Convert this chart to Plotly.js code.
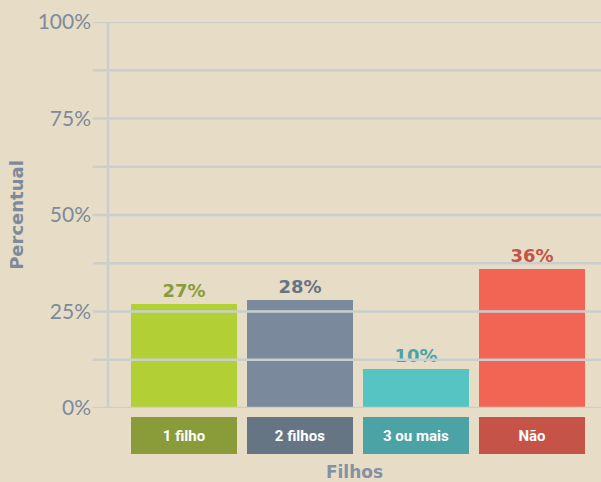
<!DOCTYPE html>
<html>
<head>
<meta charset="utf-8">
<script src="https://cdn.plot.ly/plotly-3.0.1.min.js"></script>
<style>html,body{margin:0;padding:0;background:#e7ddc6;}#chart{width:601px;height:482px;}</style>
</head>
<body>
<div id="chart"></div>
<script>
const categories = ['1 filho', '2 filhos', '3 ou mais', 'Não'];
const values = [27, 28, 10, 36];
const barColors = ['#b2cf36', '#7a899c', '#55c4c3', '#f26555'];
const darkColors = ['#8a9c3a', '#667584', '#4ba3a5', '#c55347'];
const yTicks = [0, 25, 50, 75, 100];
const gridLevels = [0, 12.5, 25, 37.5, 50, 62.5, 75, 87.5, 100];

const trace = {
  type: 'bar',
  x: categories.map((c, i) => i),
  y: values,
  width: 0.914,
  marker: {color: barColors, line: {width: 0}},
  text: values.map(v => v + '%'),
  textposition: 'outside',
  cliponaxis: false,
  outsidetextfont: {family: 'DejaVu Sans', size: 18, color: darkColors, weight: 'bold'},
  hoverinfo: 'none'
};

const shapes = gridLevels.map(g => ({
  type: 'line', xref: 'paper', yref: 'y', layer: 'above',
  x0: -0.031, x1: 1, y0: g, y1: g,
  line: {color: '#c9cfcf', width: 2.5}
}));
shapes.push({
  type: 'line', xref: 'paper', yref: 'paper', layer: 'above',
  x0: 0, x1: 0, y0: 0, y1: 1,
  line: {color: '#c9cfcf', width: 2.5}
});

const annotations = categories.map((c, i) => ({
  x: i, xref: 'x', y: -0.0233, yref: 'paper', yanchor: 'top',
  text: '<b>' + c + '</b>', showarrow: false,
  width: 106, height: 37, bgcolor: darkColors[i], borderpad: 0, borderwidth: 0,
  font: {family: 'Roboto', size: 15, color: '#ffffff'}
}));

const layout = {
  width: 601, height: 482,
  margin: {l: 108, r: 0, t: 22, b: 74},
  paper_bgcolor: '#e7ddc6', plot_bgcolor: '#e7ddc6',
  showlegend: false,
  bargap: 0,
  xaxis: {
    range: [-0.655, 3.595], showticklabels: false, showgrid: false, zeroline: false,
    ticks: '', fixedrange: true,
    title: {text: '<b>Filhos</b>', standoff: 60, font: {family: 'DejaVu Sans', size: 17, color: '#8391a3'}}
  },
  yaxis: {
    range: [0, 100], tickvals: yTicks, ticktext: yTicks.map(v => v + '%'),
    showgrid: false, zeroline: false, ticks: '', ticklabelstandoff: 16,
    tickfont: {family: 'Lato', size: 21, color: '#7d8a9c'},
    title: {text: '<b>Percentual</b>', standoff: 9, font: {family: 'DejaVu Sans', size: 18, color: '#7d8a9c'}},
    fixedrange: true
  },
  shapes: shapes,
  annotations: annotations
};

Plotly.newPlot('chart', [trace], layout, {displayModeBar: false, staticPlot: true});
</script>
</body>
</html>
